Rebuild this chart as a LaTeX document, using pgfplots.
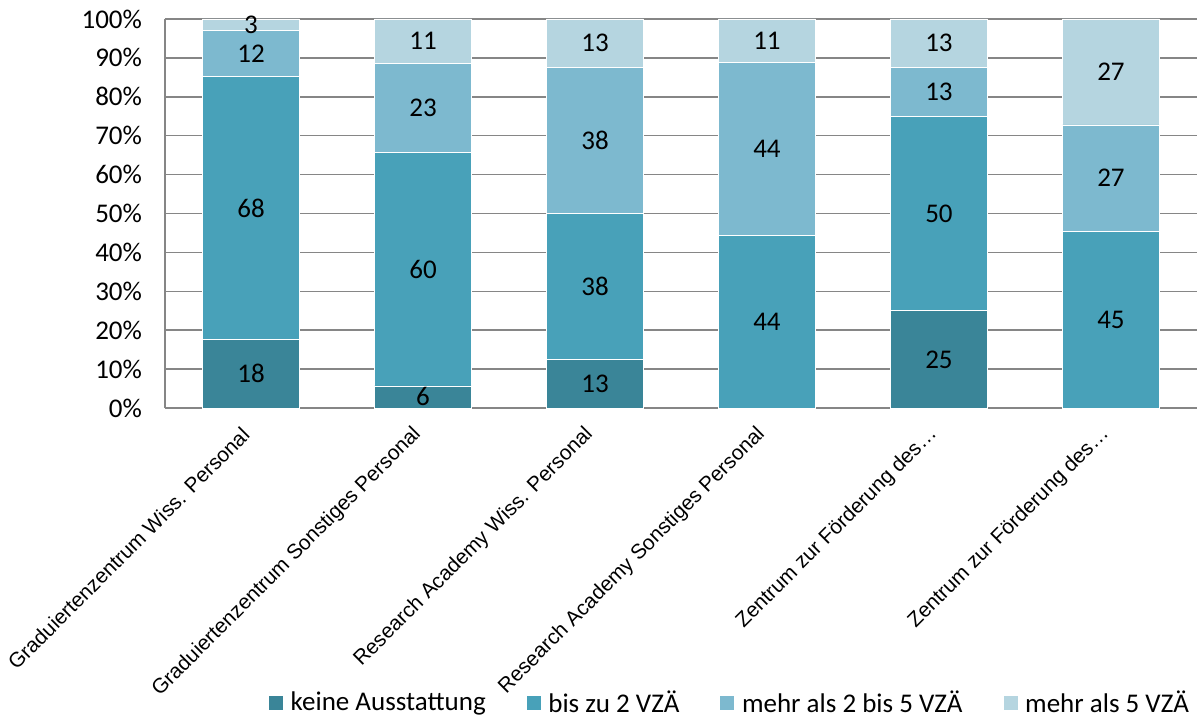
\documentclass[border=0pt]{standalone}
\usepackage{fontspec}
\setmainfont{Carlito}
\newfontfamily\arialfont{Liberation Sans}
\usepackage{pgfplots}
\pgfplotsset{compat=1.18}
\usepackage{pgfplotstable}

\definecolor{cA}{HTML}{3A8598}
\definecolor{cB}{HTML}{48A1B9}
\definecolor{cC}{HTML}{7DB9CF}
\definecolor{cD}{HTML}{B5D5E0}
\definecolor{gridgrey}{HTML}{868686}

% shares per category (percent)
\pgfplotstableread{
x keine bis2 zwei5 ueber5
0 17.6 67.6 11.8 3.0
1 5.7 60.0 22.9 11.4
2 12.5 37.5 37.5 12.5
3 0 44.4 44.4 11.2
4 25.0 50.0 12.5 12.5
5 0 45.5 27.3 27.2
}\shares

% data labels at the middle of each segment
\pgfplotstableread{
x y lab
0 8.8 18
0 51.4 68
0 91.1 12
0 98.5 3
1 2.85 6
1 35.7 60
1 77.15 23
1 94.3 11
2 6.25 13
2 31.25 38
2 68.75 38
2 93.75 13
3 22.2 44
3 66.6 44
3 94.4 11
4 12.5 25
4 50 50
4 81.25 13
4 93.75 13
5 22.75 45
5 59.1 27
5 86.4 27
}\labels

\newcommand\lblfont{\fontsize{13.5}{16}\selectfont}
\pgfplotsset{
 base/.style={scale only axis,width=516pt,height=194.5pt,
  xmin=-0.5,xmax=5.5,ymin=0,ymax=100,at={(0pt,0pt)},anchor=south west},
 sq/.style={legend image code/.code={\fill[##1] (0pt,-3.75pt) rectangle (7.5pt,3.75pt);}}
}

\begin{document}
\begin{tikzpicture}
\path[use as bounding box] (-82.5pt,-154.5pt) rectangle (517.5pt,204pt);
\begin{axis}[base,
 ybar stacked,bar width=48.5pt,
 axis lines*=left,axis line style={draw=gridgrey,line width=0.8pt,-},
 ymajorgrids,grid style={draw=gridgrey,line width=0.8pt},
 ytick={0,10,...,100},
 yticklabel={\pgfmathprintnumber{\tick}\%},
 /pgf/number format/assume math mode=true,
 yticklabel style={font=\lblfont,xshift=-8pt},
 xtick={0,...,5},
 xticklabels={Graduiertenzentrum Wiss. Personal,Graduiertenzentrum Sonstiges Personal,Research Academy Wiss. Personal,Research Academy Sonstiges Personal,Zentrum zur Förderung des…,Zentrum zur Förderung des…},
 xticklabel style={yshift=-11.5pt,xshift=-2.5pt,rotate=45,anchor=east,inner sep=0pt,font=\arialfont\fontsize{10.4}{12}\selectfont},
 major tick length=0pt,
 legend columns=4,
 legend style={draw=none,fill=none,font=\lblfont,
  at={(0.548,-0.758)},anchor=center,
  /tikz/every odd column/.append style={column sep=1.5pt},
  /tikz/every even column/.append style={column sep=18pt}},
]
\addplot[fill=cA,draw=white,line width=0.3pt,sq] table[x=x,y=keine]{\shares};
\addlegendentry{keine Ausstattung}
\addplot[fill=cB,draw=white,line width=0.3pt,sq] table[x=x,y=bis2]{\shares};
\addlegendentry{bis zu 2 VZÄ}
\addplot[fill=cC,draw=white,line width=0.3pt,sq] table[x=x,y=zwei5]{\shares};
\addlegendentry{mehr als 2 bis 5 VZÄ}
\addplot[fill=cD,draw=white,line width=0.3pt,sq] table[x=x,y=ueber5]{\shares};
\addlegendentry{mehr als 5 VZÄ}
\end{axis}
\begin{axis}[base,hide axis,clip=false]
\addplot[only marks,mark=none,nodes near coords,point meta=explicit symbolic,
 nodes near coords align=center,
 every node near coord/.append style={font=\lblfont,black,anchor=center}]
 table[x=x,y=y,meta=lab]{\labels};
\end{axis}
\end{tikzpicture}
\end{document}
